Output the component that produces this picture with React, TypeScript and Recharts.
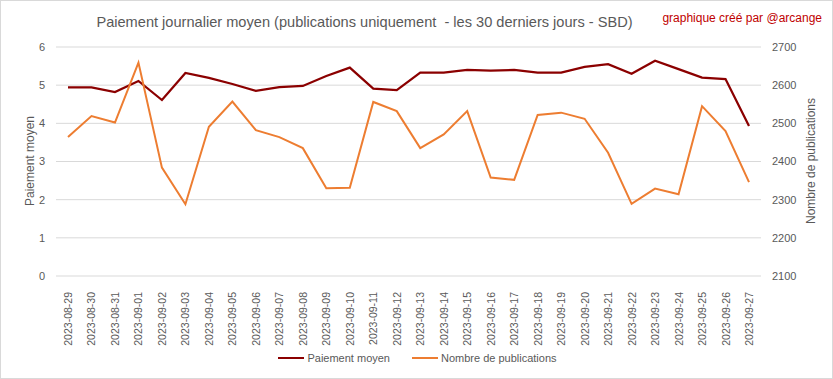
import { LineChart, Line, XAxis, YAxis, CartesianGrid } from 'recharts';

const dates = [
  '2023-08-29', '2023-08-30', '2023-08-31', '2023-09-01', '2023-09-02', '2023-09-03',
  '2023-09-04', '2023-09-05', '2023-09-06', '2023-09-07', '2023-09-08', '2023-09-09',
  '2023-09-10', '2023-09-11', '2023-09-12', '2023-09-13', '2023-09-14', '2023-09-15',
  '2023-09-16', '2023-09-17', '2023-09-18', '2023-09-19', '2023-09-20', '2023-09-21',
  '2023-09-22', '2023-09-23', '2023-09-24', '2023-09-25', '2023-09-26', '2023-09-27',
];

const paiement = [
  4.94, 4.94, 4.82, 5.11, 4.61, 5.32, 5.19, 5.03, 4.85, 4.95,
  4.98, 5.24, 5.46, 4.91, 4.87, 5.33, 5.33, 5.40, 5.38, 5.40,
  5.33, 5.33, 5.48, 5.55, 5.30, 5.64, 5.42, 5.20, 5.16, 3.93,
];

const publications = [
  2464, 2519, 2502, 2659, 2384, 2288, 2491, 2557, 2482, 2464,
  2435, 2330, 2331, 2556, 2532, 2435, 2471, 2532, 2358, 2352,
  2522, 2528, 2512, 2423, 2289, 2329, 2314, 2545, 2480, 2346,
];

const leftTicks = [0, 1, 2, 3, 4, 5, 6];
const rightTicks = [2100, 2200, 2300, 2400, 2500, 2600, 2700];

const data = dates.map((d, i) => ({ date: d, paiement: paiement[i], publications: publications[i] }));

const FONT = '"Liberation Sans", Arial, sans-serif';
const GREY = '#595959';
const RED = '#8B0000';
const ORANGE = '#ED7D31';

function DateTick({ x, y, payload }: any) {
  return (
    <text
      transform={`translate(${x},${y + 8}) rotate(-90)`}
      textAnchor="end"
      dominantBaseline="central"
      fontSize={10.5}
      fill={GREY}
      fontFamily={FONT}
    >
      {payload.value}
    </text>
  );
}

export default function App() {
  return (
    <div
      style={{
        position: 'absolute', left: 0, top: 0, width: 833, height: 379,
        border: '1px solid #d9d9d9', boxSizing: 'border-box', background: '#fff', fontFamily: FONT,
      }}
    >
      <div style={{ position: 'absolute', left: 0, top: 0 }}>
        <LineChart width={833} height={379} data={data} margin={{ top: 46, right: 10, bottom: 34, left: 10 }}>
          <CartesianGrid yAxisId="left" vertical={false} stroke="#d9d9d9" />
          <XAxis
            dataKey="date"
            interval={0}
            height={70}
            padding={{ left: 12, right: 12 }}
            axisLine={false}
            tickLine={false}
            tick={DateTick}
          />
          <YAxis
            yAxisId="left"
            width={45}
            domain={[0, 6]}
            ticks={leftTicks}
            axisLine={false}
            tickLine={false}
            tickMargin={5}
            tick={{ fontSize: 11, fill: GREY, fontFamily: FONT }}
            label={{
              content: () => (
                <text transform="translate(29,160) rotate(-90)" textAnchor="middle" dominantBaseline="central"
                  fontSize={12} fill={GREY} fontFamily={FONT}>Paiement moyen</text>
              ),
            }}
          />
          <YAxis
            yAxisId="right"
            orientation="right"
            width={63}
            domain={[2100, 2700]}
            ticks={rightTicks}
            axisLine={false}
            tickLine={false}
            tickMargin={5}
            tick={{ fontSize: 11, fill: GREY, fontFamily: FONT }}
            label={{
              content: () => (
                <text transform="translate(810,160) rotate(-90)" textAnchor="middle" dominantBaseline="central"
                  fontSize={12} fill={GREY} fontFamily={FONT}>Nombre de publications</text>
              ),
            }}
          />
          <Line yAxisId="left" type="linear" dataKey="paiement" stroke={RED} strokeWidth={2.25} dot={false} isAnimationActive={false} />
          <Line yAxisId="right" type="linear" dataKey="publications" stroke={ORANGE} strokeWidth={2} dot={false} isAnimationActive={false} />
        </LineChart>
      </div>
      <div style={{ position: 'absolute', left: 0, width: 727, top: 13, textAlign: 'center', fontSize: 14.6, color: GREY, whiteSpace: 'pre' }}>
        {'Paiement journalier moyen (publications uniquement  - les 30 derniers jours - SBD)'}
      </div>
      <div style={{ position: 'absolute', right: 10, top: 10, fontSize: 12, color: '#C00000' }}>
        graphique créé par @arcange
      </div>
      <div style={{ position: 'absolute', left: 0, width: 833, top: 351, display: 'flex', justifyContent: 'center', fontSize: 11, color: GREY }}>
        <div style={{ display: 'flex', alignItems: 'center', marginRight: 22 }}>
          <span style={{ display: 'inline-block', width: 26, height: 2, background: RED, marginRight: 3 }} />
          Paiement moyen
        </div>
        <div style={{ display: 'flex', alignItems: 'center' }}>
          <span style={{ display: 'inline-block', width: 26, height: 2, background: ORANGE, marginRight: 3 }} />
          Nombre de publications
        </div>
      </div>
    </div>
  );
}
